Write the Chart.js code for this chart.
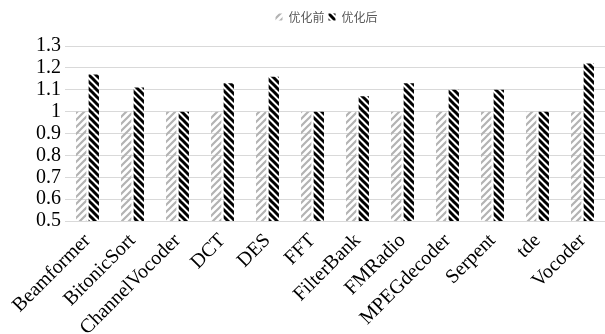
<!DOCTYPE html>
<html>
<head>
<meta charset="utf-8">
<script src="https://cdn.jsdelivr.net/npm/chart.js@4"></script>
<style>
  html, body { margin: 0; padding: 0; background: #fff; }
  #wrap { width: 605px; height: 334px; }
</style>
</head>
<body>
<div id="wrap"><canvas id="c"></canvas></div>
<script>
const categories = ["Beamformer", "BitonicSort", "ChannelVocoder", "DCT", "DES", "FFT", "FilterBank", "FMRadio", "MPEGdecoder", "Serpent", "tde", "Vocoder"]
const before = [1, 1, 1, 1, 1, 1, 1, 1, 1, 1, 1, 1]
const after = [1.17, 1.11, 1.0, 1.13, 1.16, 1.0, 1.07, 1.13, 1.10, 1.10, 1.0, 1.22]
const seriesLabels = ["优化前", "优化后"]
const yTicks = [0.5, 0.6, 0.7, 0.8, 0.9, 1, 1.1, 1.2, 1.3]

// diagonal hatch tile; dir 1 = "/", -1 = "\"
function hatch(color, width, size, dir) {
  const t = document.createElement("canvas")
  t.width = size; t.height = size
  const g = t.getContext("2d")
  g.strokeStyle = color
  g.lineWidth = width
  g.lineCap = "square"
  g.beginPath()
  if (dir > 0) {
    g.moveTo(0, size); g.lineTo(size, 0)
    g.moveTo(-size / 2, size / 2); g.lineTo(size / 2, -size / 2)
    g.moveTo(size / 2, size * 1.5); g.lineTo(size * 1.5, size / 2)
  } else {
    g.moveTo(0, 0); g.lineTo(size, size)
    g.moveTo(-size / 2, size / 2); g.lineTo(size / 2, size * 1.5)
    g.moveTo(size / 2, -size / 2); g.lineTo(size * 1.5, size / 2)
  }
  g.stroke()
  return g.createPattern(t, "repeat")
}

const ctx = document.getElementById("c").getContext("2d")
const grayHatch = hatch("#b3b3b3", 2.2, 7, 1)
const blackHatch = hatch("#000000", 3, 7, -1)

// extra room under the legend so the plot starts where the original does,
// and the legend sits a little right of centre like the original
const legendGap = {
  id: "legendGap",
  beforeInit(chart) {
    const fit = chart.legend.fit
    chart.legend.fit = function () { fit.call(this); this.height += 13 }
  },
  afterLayout(chart) {
    chart.legend.left += 24
    chart.legend.right += 24
  },
}

new Chart(ctx, {
  type: "bar",
  data: {
    labels: categories,
    datasets: [
      { label: seriesLabels[0], data: before, backgroundColor: grayHatch, borderWidth: 0, categoryPercentage: 0.56, barPercentage: 0.82 },
      { label: seriesLabels[1], data: after, backgroundColor: blackHatch, borderWidth: 0, categoryPercentage: 0.56, barPercentage: 0.82 },
    ],
  },
  plugins: [legendGap],
  options: {
    responsive: true,
    maintainAspectRatio: false,
    animation: false,
    layout: { padding: { top: 7, right: 0, left: 0, bottom: 0 } },
    scales: {
      x: {
        grid: { display: false },
        border: { color: "#d9d9d9" },
        ticks: {
          color: "#000",
          font: { family: "'Liberation Serif', 'Times New Roman', serif", size: 20 },
          maxRotation: 45, minRotation: 45, autoSkip: false, padding: 0,
        },
        afterFit: (s) => { s.height = 113 },
      },
      y: {
        min: 0.5, max: 1.3,
        afterBuildTicks: (s) => { s.ticks = yTicks.map((v) => ({ value: v })) },
        grid: { color: "#d9d9d9", drawTicks: false },
        border: { display: false },
        ticks: {
          color: "#000",
          padding: 4,
          autoSkip: false,
          font: { family: "'Liberation Serif', 'Times New Roman', serif", size: 20 },
          callback: (v) => String(v),
        },
        afterFit: (s) => { s.width = 65 },
      },
    },
    plugins: {
      legend: {
        position: "top",
        labels: {
          boxWidth: 7, boxHeight: 7,
          color: "#595959",
          font: { family: "'Noto Sans CJK SC', sans-serif", size: 12 },
          padding: 4,
        },
      },
      tooltip: { enabled: false },
    },
  },
})
</script>
</body>
</html>
